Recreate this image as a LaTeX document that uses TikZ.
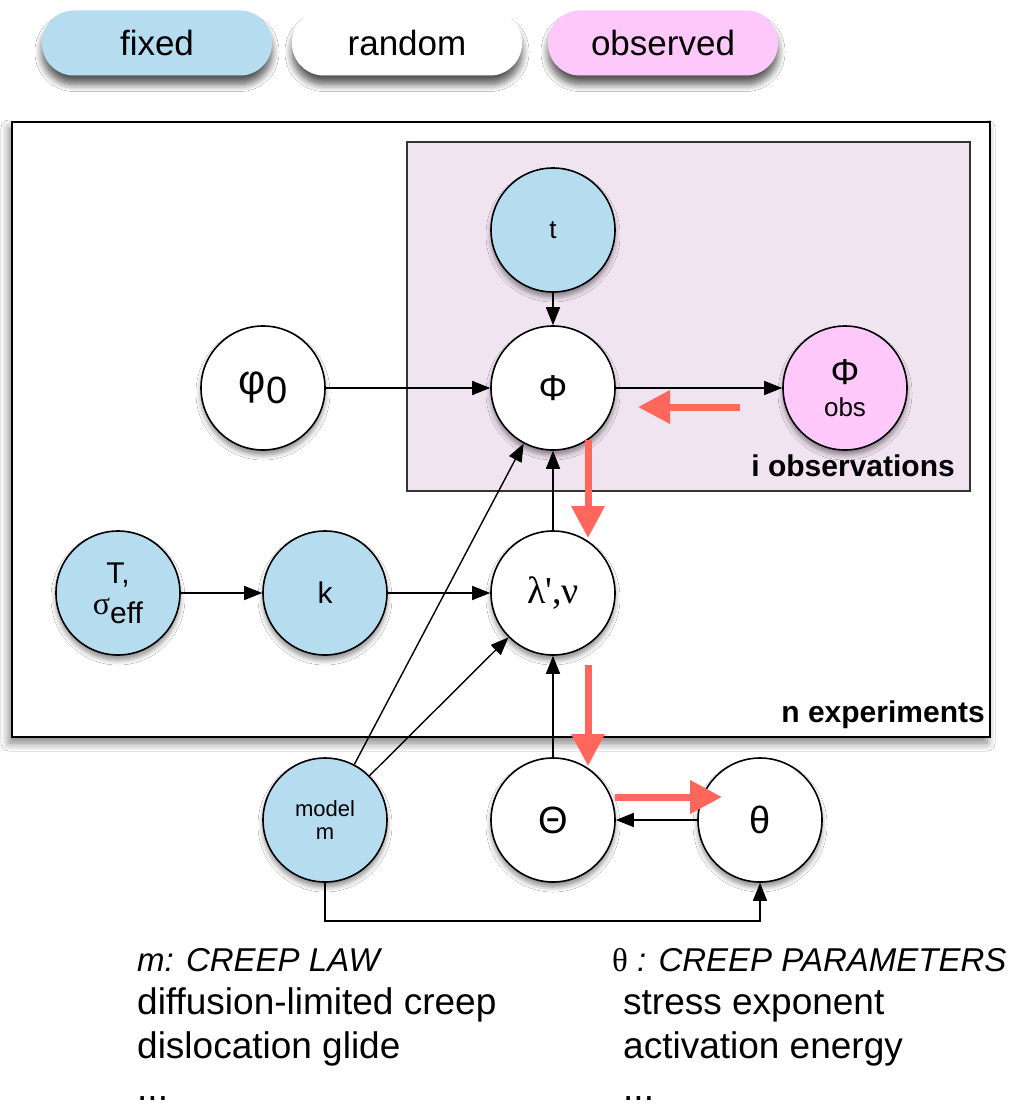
\documentclass[tikz,border=0pt]{standalone}
\usepackage{fontspec}
\setmainfont{Liberation Sans}
\newfontfamily\serifx{Liberation Serif}
\usetikzlibrary{arrows.meta,shadows.blur}
\definecolor{fixedc}{RGB}{182,220,240}
\definecolor{obsc}{RGB}{255,200,250}
\definecolor{platec}{RGB}{241,228,241}
\definecolor{redc}{RGB}{255,102,92}
\newcommand{\fs}[1]{\fontsize{#1}{#1}\selectfont}
\begin{document}
\begin{tikzpicture}[x=1pt,y=-1pt,
  var/.style={circle,draw,line width=1.6pt,minimum size=124pt,inner sep=0pt,fill=white,align=center,
    blur shadow={shadow xshift=0pt,shadow yshift=-5pt,shadow blur steps=6,shadow blur radius=5pt,shadow opacity=45}},
  fixedv/.style={var,fill=fixedc},
  obsv/.style={var,fill=obsc},
  pill/.style={rounded corners=32pt,minimum width=230pt,minimum height=65pt,inner sep=0pt,font=\fs{35},
    blur shadow={shadow xshift=0pt,shadow yshift=-9pt,shadow blur steps=8,shadow blur radius=7pt,shadow opacity=65}},
  arr/.style={line width=1.4pt,-{Triangle[length=18pt,width=14pt]}},
  redarr/.style={draw=redc,line width=7pt,-{Triangle[length=32pt,width=32pt]}},
  note/.style={anchor=base west,inner sep=0pt,font=\fs{37}}
]
\useasboundingbox[fill=white] (0,0) rectangle (1014,1105);

% legend
\node[pill,fill=fixedc] (lf) at (157,43) {fixed};
\node[pill,fill=white] (lr) at (407,43) {random};
\node[pill,fill=obsc] (lo) at (663,43) {observed};

% plates
\node[draw,line width=2pt,fill=white,minimum width=978pt,minimum height=615pt,inner sep=0pt,
  blur shadow={shadow xshift=-3pt,shadow yshift=-6pt,shadow blur steps=8,shadow blur radius=8pt,shadow opacity=50}] (outer) at (501,429.5) {};
\node[draw=black!80,line width=1.5pt,fill=platec,minimum width=563pt,minimum height=349pt,inner sep=0pt] (plate) at (688.5,316.5) {};
\node[anchor=base east,inner sep=0pt,font=\bfseries\fs{30}] (lobs) at (955,476) {i observations};
\node[anchor=base east,inner sep=0pt,font=\bfseries\fs{30}] (lexp) at (985,722) {n experiments};

% nodes
\node[fixedv,font=\fs{26}] (t) at (553,230) {t};
\node[var,font=\fs{36}] (Phi) at (553,388) {Φ};
\node[obsv] (Phiobs) at (845,388) {\fs{36}Φ\\[12pt]\fs{26}obs};
\node[var,font=\fs{42}] (phi0) at (263,388) {φ\raisebox{-9pt}{\fs{38}0}};
\node[fixedv] (T) at (118,593) {\fs{30}T,\\[10pt]{\serifx\fs{32}σ}\raisebox{-9pt}{\fs{30}eff}};
\node[fixedv,font=\fs{30}] (k) at (325,593) {k};
\node[var,font=\serifx\fs{38}] (lam) at (553,593) {λ',ν};
\node[var,font=\fs{38}] (Theta) at (553,820) {Θ};
\node[var,font=\fs{38}] (theta) at (760,820) {θ};
\node[fixedv] (model) at (325,820) {\fs{22}model\\[10pt]\fs{22}m};

% black arrows
\draw[arr] (t) -- (Phi);
\draw[arr] (phi0) -- (Phi);
\draw[arr] (Phi) -- (Phiobs);
\draw[arr] (T) -- (k);
\draw[arr] (k) -- (lam);
\draw[arr] (lam) -- (Phi);
\draw[arr] (Theta) -- (lam);
\draw[arr] (model) -- (Phi);
\draw[arr] (model) -- (lam);
\draw[arr] (theta) -- (Theta);
\draw[arr] (model.south) -- ([yshift=-38pt]model.south) -| (theta.south);

% red arrows
\coordinate (r1a) at (740,407); \coordinate (r1b) at (638,407);
\coordinate (r2a) at (588,440); \coordinate (r2b) at (588,538);
\coordinate (r3a) at (588,665); \coordinate (r3b) at (588,766);
\coordinate (r4a) at (615,797); \coordinate (r4b) at (722,797);
\draw[redarr] (r1a) -- (r1b);
\draw[redarr] (r2a) -- (r2b);
\draw[redarr] (r3a) -- (r3b);
\draw[redarr] (r4a) -- (r4b);

% notes
\node[note,font=\itshape\fs{33}] (n1) at (137,971) {m: CREEP LAW};
\node[note] (n2) at (137,1014) {diffusion-limited creep};
\node[note] (n3) at (137,1058) {dislocation glide};
\node[note] (n4) at (137,1100) {...};
\node[note,font=\itshape\fs{33}] (n5) at (612,971) {{\upshape\serifx θ} : CREEP PARAMETERS};
\node[note] (n6) at (623,1014) {stress exponent};
\node[note] (n7) at (623,1058) {activation energy};
\node[note] (n8) at (623,1100) {...};
\end{tikzpicture}
\end{document}
